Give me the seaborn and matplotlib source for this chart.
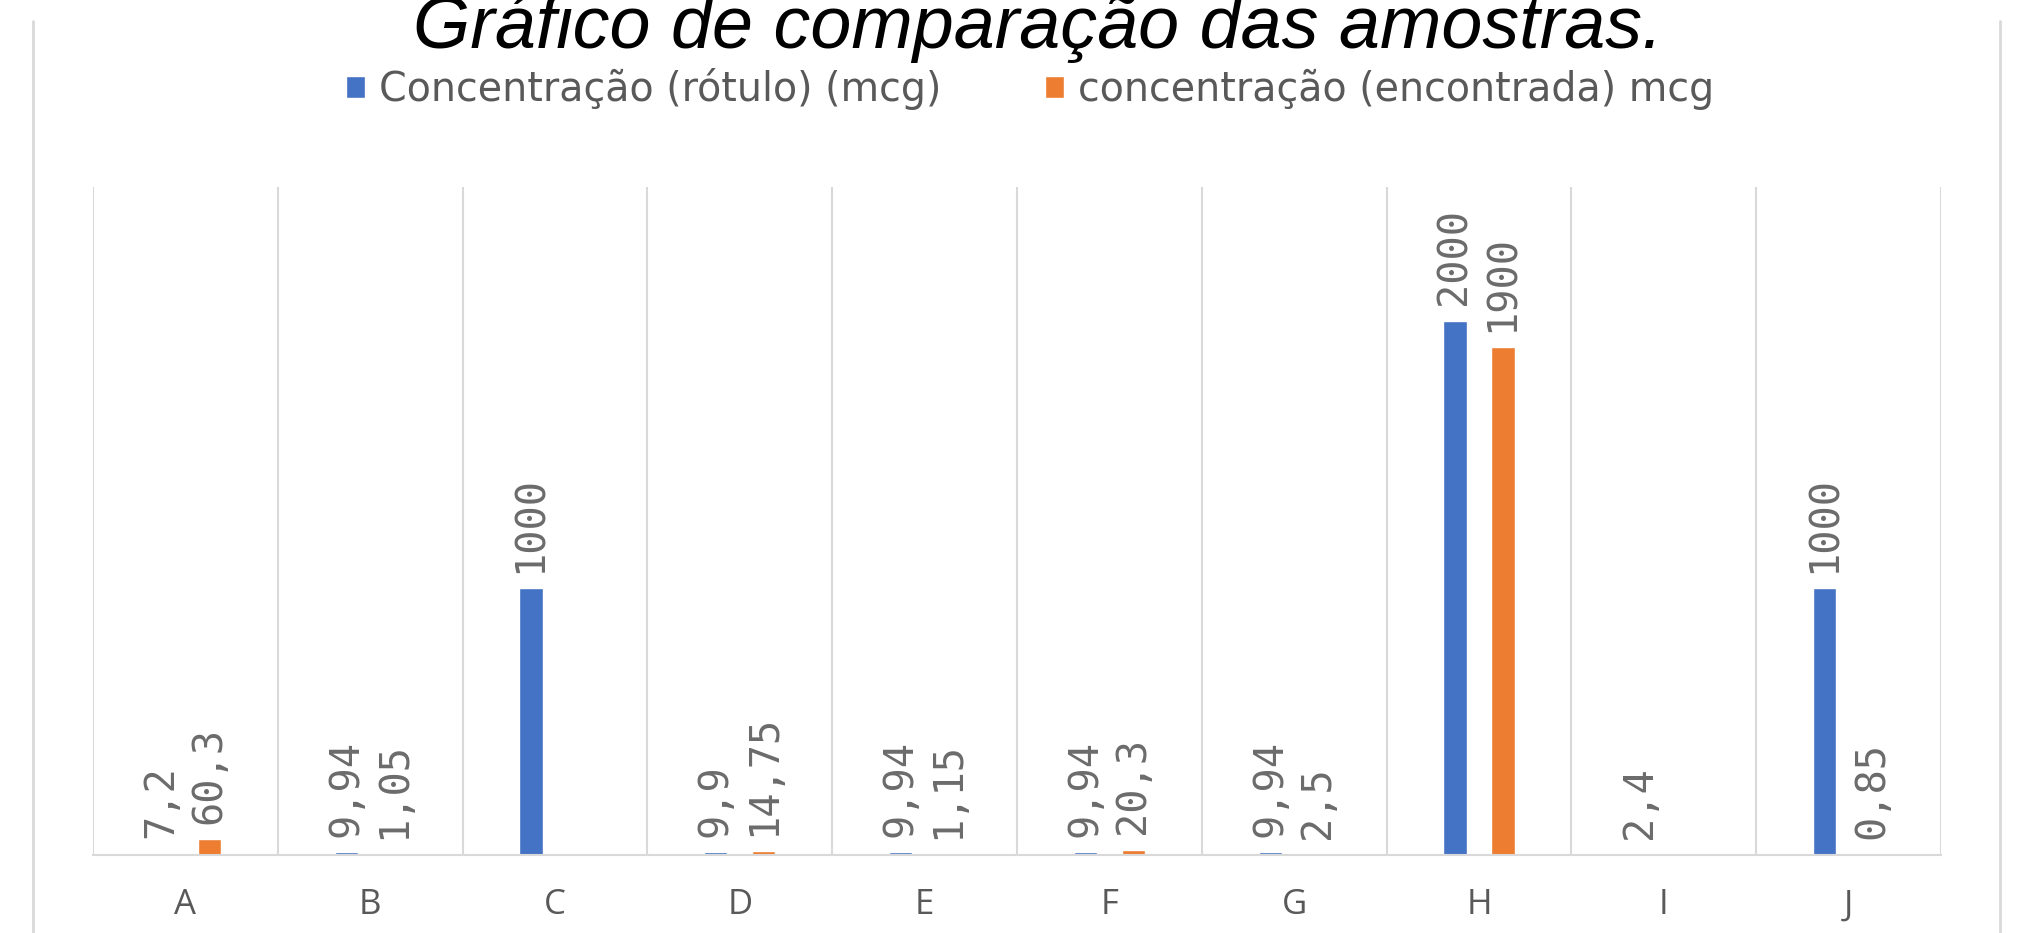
import numpy as np
import pandas as pd
import matplotlib
matplotlib.use("Agg")
import matplotlib.pyplot as plt
from matplotlib.lines import Line2D
import seaborn as sns

# ---- data ----
samples = ["A", "B", "C", "D", "E", "F", "G", "H", "I", "J"]
series_names = ["Concentração (rótulo) (mcg)", "concentração (encontrada) mcg"]
rotulo = [7.2, 9.94, 1000, 9.9, 9.94, 9.94, 9.94, 2000, 2.4, 1000]
encontrada = [60.3, 1.05, np.nan, 14.75, 1.15, 20.3, 2.5, 1900, np.nan, 0.85]
title_text = "Gráfico de comparação das amostras."

df = pd.DataFrame({
    "amostra": samples * 2,
    "serie": [series_names[0]] * len(samples) + [series_names[1]] * len(samples),
    "valor": rotulo + encontrada,
})

sns.set_theme(style="white")
plt.rcParams["font.family"] = ["Open Sans", "DejaVu Sans"]

W, H = 2022, 933
fig = plt.figure(figsize=(W / 100, H / 100), dpi=100)
fig.patch.set_facecolor("white")

ax = fig.add_axes([93 / W, 1 - 855 / H, (1941 - 93) / W, (855 - 187) / H])

palette = {series_names[0]: "#4472C4", series_names[1]: "#ED7D31"}
sns.barplot(data=df, x="amostra", y="valor", hue="serie", order=samples,
            hue_order=series_names, palette=palette, width=0.52, gap=0.52,
            saturation=1, errorbar=None, ax=ax, legend=True)

ax.set_xlim(-0.5, len(samples) - 0.5)
ax.set_ylim(0, 2500)
ax.set_xlabel("")
ax.set_ylabel("")
ax.set_yticks([])
for s in ["top", "left", "right"]:
    ax.spines[s].set_visible(False)
ax.spines["bottom"].set_color("#d9d9d9")
ax.spines["bottom"].set_linewidth(1.5)

ax.set_xticks(np.arange(-0.5, len(samples), 1.0), minor=True)
ax.grid(False)
ax.grid(True, which="minor", axis="x", color="#d9d9d9", linewidth=1.5)
ax.tick_params(axis="x", which="both", length=0)
ax.tick_params(axis="x", which="major", pad=24, labelsize=25, labelcolor="#595959")
ax.set_axisbelow(True)


def fmt(v):
    if v is None or np.isnan(v):
        return ""
    return f"{v:g}".replace(".", ",")


for c in ax.containers:
    ax.bar_label(c, labels=[fmt(v) for v in c.datavalues], rotation=90,
                 padding=11, fontsize=29, color="#6b6b6b",
                 family="DejaVu Sans Mono")

sns.move_legend(ax, "center", bbox_to_anchor=(1030 / W, 1 - 89 / H),
                bbox_transform=fig.transFigure, ncol=2, frameon=False,
                title=None, prop={"family": "DejaVu Sans", "size": 28.5},
                handlelength=0.5, handleheight=0.5,
                handletextpad=0.35, columnspacing=2.6, labelcolor="#595959")

# chart-area border (left and right edges)
fig.add_artist(Line2D([33 / W, 33 / W], [0, 1 - 21 / H], transform=fig.transFigure,
                      color="#d9d9d9", linewidth=2))
fig.add_artist(Line2D([2000 / W, 2000 / W], [0, 1 - 21 / H], transform=fig.transFigure,
                      color="#d9d9d9", linewidth=2))

fig.text(1038 / W, 1 - 48 / H, title_text, ha="center", va="baseline",
         fontsize=53, style="italic", color="black",
         family=["Liberation Sans", "DejaVu Sans"])

fig.savefig("out.png", dpi=100, facecolor="white")
